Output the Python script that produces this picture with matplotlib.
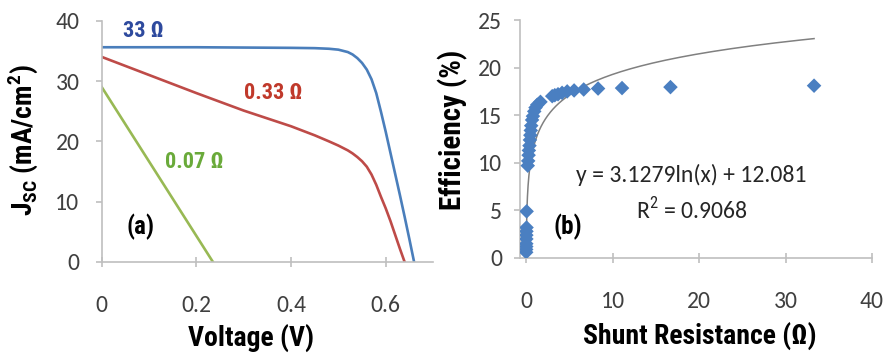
import matplotlib
matplotlib.use("Agg")
import matplotlib.pyplot as plt
import numpy as np

TICK_FONT = ["Carlito", "DejaVu Sans"]
LABEL_FONT = ["Roboto Condensed", "DejaVu Sans"]
plt.rcParams["font.family"] = TICK_FONT
plt.rcParams["mathtext.fontset"] = "custom"
plt.rcParams["mathtext.rm"] = "Roboto Condensed"
plt.rcParams["mathtext.bf"] = "Roboto Condensed:bold"

# panel (a): J-V curves for three shunt resistances
v_33 = [0, 0.1, 0.2, 0.3, 0.4, 0.45, 0.48, 0.5, 0.51, 0.52, 0.53, 0.54, 0.55, 0.56, 0.57,
        0.58, 0.59, 0.6, 0.61, 0.62, 0.63, 0.64, 0.65, 0.66]
j_33 = [35.6, 35.6, 35.6, 35.55, 35.5, 35.45, 35.35, 35.2, 35.0, 34.8, 34.4, 33.8, 33.0, 31.9, 30.3,
        28.0, 24.9, 21.6, 18.1, 14.6, 11.1, 7.5, 3.8, 0]
v_033 = [0, 0.1, 0.2, 0.3, 0.4, 0.45, 0.48, 0.5, 0.52, 0.53, 0.54, 0.55, 0.56, 0.57, 0.58,
         0.59, 0.6, 0.61, 0.62, 0.63, 0.64]
j_033 = [34.0, 31.0, 28.0, 25.1, 22.5, 21.0, 20.0, 19.3, 18.5, 18.0, 17.4, 16.7, 15.8, 14.5, 12.8,
         10.8, 8.9, 6.8, 4.5, 2.2, 0]
v_007 = [0, 0.235]
j_007 = [29.0, 0]

# panel (b): efficiency vs shunt resistance
r_shunt = [0.02, 0.02, 0.03, 0.03, 0.04, 0.04, 0.05, 0.06, 0.07,
           0.2, 0.25, 0.3, 0.33, 0.4, 0.45, 0.5, 0.55, 0.6, 0.7, 0.8, 0.95, 1.1, 1.3, 1.67,
           3.03, 3.33, 3.7, 4.17, 4.76, 5.56, 6.67, 8.33, 11.1, 16.7, 33.3]
eff = [0.6, 0.9, 1.2, 1.5, 2.0, 2.4, 2.8, 3.2, 4.9,
       9.7, 10.2, 10.8, 11.3, 11.8, 12.4, 12.9, 13.4, 13.9, 14.5, 14.9, 15.4, 15.8, 16.1, 16.4,
       17.0, 17.1, 17.2, 17.35, 17.5, 17.6, 17.7, 17.8, 17.85, 17.95, 18.1]
fit_a, fit_b = 3.1279, 12.081

tick_color = "#404040"
spine_color = "#bfbfbf"

fig = plt.figure(figsize=(8.87, 3.54), dpi=100)
ax1 = fig.add_axes([0.1147, 0.2599, 0.3735, 0.6816])
ax2 = fig.add_axes([0.5862, 0.2712, 0.3969, 0.6723])

for ax in (ax1, ax2):
    for s in ("top", "right"):
        ax.spines[s].set_visible(False)
    for s in ("left", "bottom"):
        ax.spines[s].set_color(spine_color)
        ax.spines[s].set_linewidth(1.2)
    ax.tick_params(axis="both", colors=spine_color, labelcolor=tick_color, labelsize=17, width=1.2)
    ax.tick_params(axis="x", direction="inout", length=7, pad=20)
ax1.tick_params(axis="y", direction="out", length=4, pad=12)
ax2.tick_params(axis="y", direction="out", length=4, pad=9)

# (a)
ax1.plot(v_33, j_33, color="#4a7ebb", lw=1.9)
ax1.plot(v_033, j_033, color="#be4b48", lw=1.9)
ax1.plot(v_007, j_007, color="#98b954", lw=1.9)
ax1.set_xlim(0, 0.7)
ax1.set_ylim(0, 40)
ax1.set_xticks([0, 0.2, 0.4, 0.6])
ax1.set_xticklabels(["0", "0.2", "0.4", "0.6"])
ax1.set_yticks([0, 10, 20, 30, 40])
ax1.set_xlabel("Voltage (V)", fontsize=20, fontweight="bold", family=LABEL_FONT, va="top")
ax1.xaxis.set_label_coords(0.452, -0.255)
ax1.set_ylabel(r"J$_{\mathbf{SC}}$ (mA/cm$^{\mathbf{2}}$)", fontsize=20, fontweight="bold",
               family=LABEL_FONT, va="center")
ax1.yaxis.set_label_coords(-0.24, 0.506)
lab_kw = dict(fontsize=16, fontweight="bold", family=LABEL_FONT, ha="center", va="center")
ax1.text(0.089, 38.3, "33 Ω", color="#2e4a9e", **lab_kw)
ax1.text(0.363, 28.0, "0.33 Ω", color="#c0392b", **lab_kw)
ax1.text(0.196, 16.6, "0.07 Ω", color="#6aaa3a", **lab_kw)
ax1.text(0.081, 5.8, "(a)", color="black", fontsize=18, fontweight="bold", family=LABEL_FONT,
         ha="center", va="center")

# (b)
x_fit = np.logspace(np.log10(0.024), np.log10(33.3), 300)
ax2.plot(x_fit, fit_a * np.log(x_fit) + fit_b, color="#808080", lw=1.1, zorder=2)
ax2.scatter(r_shunt, eff, marker="D", s=55, color="#4a7fc1", edgecolors="none", zorder=3)
ax2.set_xlim(-0.7, 40)
ax2.set_ylim(0, 25)
ax2.set_xticks([0, 10, 20, 30, 40])
ax2.set_yticks([0, 5, 10, 15, 20, 25])
ax2.set_xlabel("Shunt Resistance (Ω)", fontsize=20, fontweight="bold", family=LABEL_FONT, va="top")
ax2.xaxis.set_label_coords(0.511, -0.27)
ax2.set_ylabel("Efficiency (%)", fontsize=21, fontweight="bold", family=LABEL_FONT, va="center")
ax2.yaxis.set_label_coords(-0.19, 0.538)
ax2.text(19.1, 8.7, f"y = {fit_a}ln(x) + {fit_b}", color="#262626", fontsize=17, ha="center", va="center")
ax2.text(19.1, 5.0, r"R$^2$ = 0.9068", color="#262626", fontsize=17, ha="center", va="center")
ax2.text(4.85, 3.3, "(b)", color="black", fontsize=18, fontweight="bold", family=LABEL_FONT,
         ha="center", va="center")

fig.savefig("out.png", dpi=100)
